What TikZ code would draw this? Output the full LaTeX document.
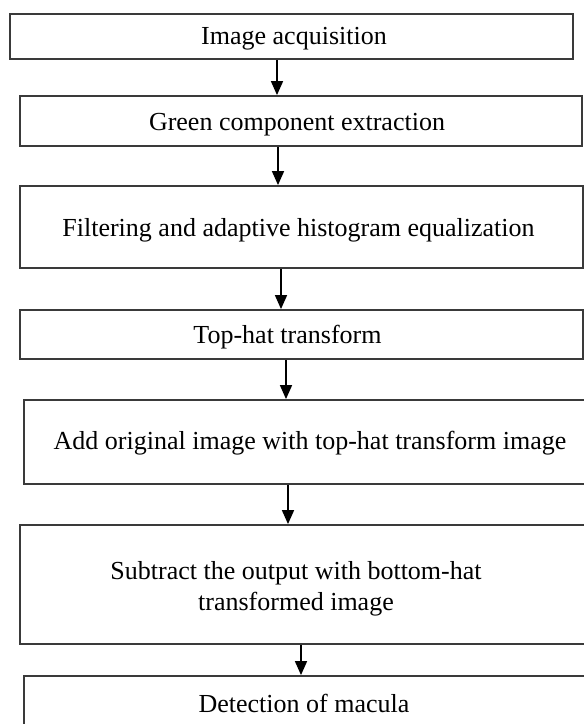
\documentclass[tikz,border=0pt]{standalone}
\usepackage{fontspec}
\setmainfont{Liberation Serif}
\usetikzlibrary{arrows.meta}

\definecolor{BoxGrey}{HTML}{3a3a3a}
\tikzstyle{flow-text}=[align=center, font=\fontsize{26}{31}\selectfont, text=black]
\tikzstyle{flow-box}=[rectangle, draw=BoxGrey, line width=1.8pt, inner sep=0pt]
\tikzstyle{flow-arrow}=[draw=black, line width=1.5pt, -{Triangle[length=14pt, width=12pt]}]

\begin{document}
\begin{tikzpicture}[x=1pt, y=1pt]
      \useasboundingbox (0,0) rectangle (584,-724);

      \node (acquire) at (291.5, -36.5)
            [flow-box, minimum width=563pt, minimum height=45pt,
             label={[flow-text, xshift=2.5pt, yshift=-2pt]center:Image acquisition}] {};
      \node (green) at (301, -121)
            [flow-box, minimum width=562pt, minimum height=50pt,
             label={[flow-text, xshift=-4pt, yshift=-4pt]center:Green component extraction}] {};
      \node (filter) at (301.5, -227)
            [flow-box, minimum width=563pt, minimum height=82pt,
             label={[flow-text, xshift=-3pt, yshift=-3pt]center:Filtering and adaptive histogram equalization}] {};
      \node (tophat) at (301.5, -334.5)
            [flow-box, minimum width=563pt, minimum height=49pt,
             label={[flow-text, xshift=-14pt, yshift=-3pt]center:Top-hat transform}] {};
      \node (add) at (310, -442)
            [flow-box, minimum width=572pt, minimum height=84pt,
             label={[flow-text, yshift=-1pt]center:Add original image with top-hat transform image}] {};
      \node (subtract) at (310, -584.5)
            [flow-box, minimum width=580pt, minimum height=119pt,
             label={[flow-text, xshift=-14pt, yshift=-4pt]center:Subtract the output with bottom-hat\\transformed image}] {};
      \node (macula) at (310, -703)
            [flow-box, minimum width=572pt, minimum height=54pt,
             label={[flow-text, xshift=-6pt]center:Detection of macula}] {};

      \draw[flow-arrow] ([xshift=-14.5pt]acquire.south) -- ([xshift=-14.5pt]acquire.south |- green.north);
      \draw[flow-arrow] ([xshift=-23pt]green.south) -- ([xshift=-23pt]green.south |- filter.north);
      \draw[flow-arrow] ([xshift=-20.5pt]filter.south) -- ([xshift=-20.5pt]filter.south |- tophat.north);
      \draw[flow-arrow] ([xshift=-15.5pt]tophat.south) -- ([xshift=-15.5pt]tophat.south |- add.north);
      \draw[flow-arrow] ([xshift=-22pt]add.south) -- ([xshift=-22pt]add.south |- subtract.north);
      \draw[flow-arrow] ([xshift=-9pt]subtract.south) -- ([xshift=-9pt]subtract.south |- macula.north);
\end{tikzpicture}
\end{document}
